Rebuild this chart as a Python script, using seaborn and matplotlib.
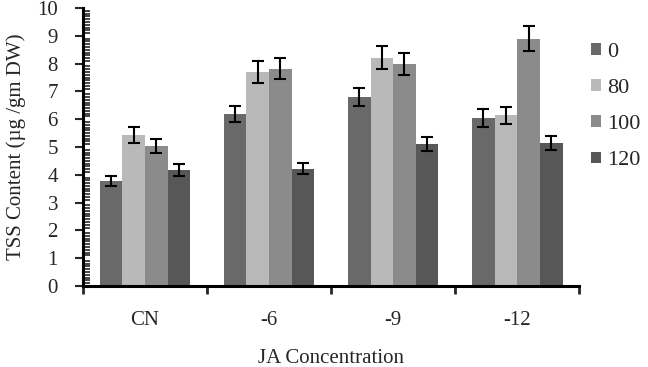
import matplotlib
matplotlib.use("Agg")
from matplotlib import pyplot as plt
import matplotlib.ticker as ticker
import seaborn as sns
import pandas as pd
import numpy as np

sns.set_style("white")
plt.rcParams['font.family'] = ['Liberation Serif', 'DejaVu Serif']

groups = ['CN', '-6', '-9', '-12']
levels = ['0', '80', '100', '120']
values = {
    '0':   [3.78, 6.19, 6.79, 6.03],
    '80':  [5.43, 7.70, 8.22, 6.14],
    '100': [5.04, 7.82, 7.99, 8.90],
    '120': [4.17, 4.22, 5.10, 5.13],
}
errors = {
    '0':   [0.18, 0.30, 0.33, 0.32],
    '80':  [0.28, 0.38, 0.42, 0.31],
    '100': [0.25, 0.38, 0.40, 0.45],
    '120': [0.22, 0.20, 0.26, 0.25],
}
colors = ['#696969', '#b9b9b9', '#8b8b8b', '#575757']

df = pd.DataFrame([
    [g, lv, values[lv][i], errors[lv][i]]
    for lv in levels for i, g in enumerate(groups)
], columns=['group', 'level', 'value', 'err'])

fig = plt.figure(figsize=(6.48, 3.67), dpi=100)
ax = fig.add_axes([0.128, 0.221, 0.766, 0.757])

sns.barplot(data=df, x='group', y='value', hue='level', order=groups,
            hue_order=levels, palette=colors, errorbar=None, width=0.73,
            saturation=1, linewidth=0, ax=ax)

# error bars on bar centres (patches follow hue order, then group order)
for lv, cont in zip(levels, ax.containers):
    xs = [p.get_x() + p.get_width() / 2 for p in cont.patches]
    ax.errorbar(xs, values[lv], yerr=errors[lv], fmt='none', ecolor='black',
                elinewidth=1.5, capsize=4, capthick=1.5, zorder=5)

ax.set_ylim(0, 10)
ax.set_xlim(-0.5, 3.5)
ax.yaxis.set_major_locator(ticker.MultipleLocator(1))
ax.yaxis.set_minor_locator(ticker.MultipleLocator(0.1))
ax.tick_params(axis='y', which='major', direction='out', length=6, width=1.5,
               labelsize=15, left=True, pad=12)
ax.tick_params(axis='y', which='minor', direction='in', length=5, width=1.2,
               left=True)
ax.set_xticks([0, 1, 2, 3])
ax.set_xticklabels(groups)
ax.xaxis.set_minor_locator(ticker.FixedLocator([-0.5, 0.5, 1.5, 2.5, 3.5]))
ax.tick_params(axis='x', which='major', length=0, labelsize=15, pad=18)
ax.tick_params(axis='x', which='minor', direction='out', length=6, width=2,
               bottom=True)

for s in ['top', 'right']:
    ax.spines[s].set_visible(False)
for s in ['left', 'bottom']:
    ax.spines[s].set_color('black')
    ax.spines[s].set_linewidth(2.2)

ax.set_ylabel('TSS Content (µg /gm DW)', fontsize=15, labelpad=8)
ax.set_xlabel('JA Concentration', fontsize=15, labelpad=14)

ax.legend(loc='upper left', bbox_to_anchor=(0.992, 0.93), frameon=False,
          fontsize=16, handlelength=0.45, handleheight=0.45, handletextpad=0.3,
          labelspacing=0.77, borderaxespad=0.3)

fig.savefig('out.png', dpi=100)
